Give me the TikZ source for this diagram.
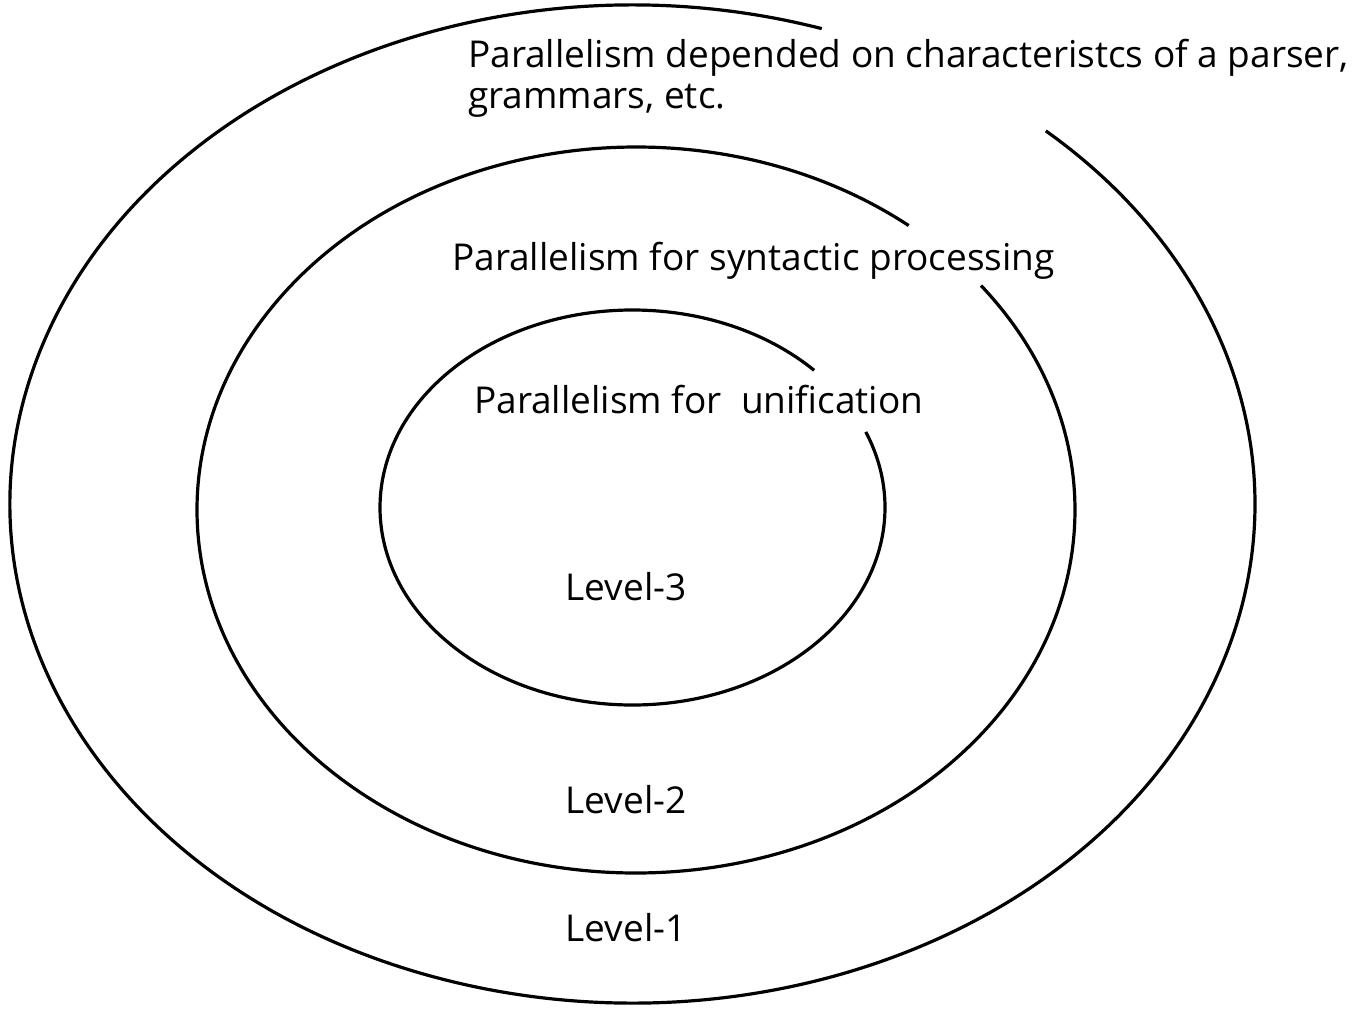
\documentclass[tikz,border=0pt]{standalone}
\usepackage{fontspec}
\setmainfont{Open Sans}
\begin{document}
\begin{tikzpicture}[x=1pt,y=-1pt,
  ring/.style={line width=3.2pt},
  lbl/.style={inner sep=0pt,font=\fontsize{37}{41}\selectfont}]
\useasboundingbox (0,0) rectangle (1354,1012);
% three nested levels, each ring broken at the upper right
\draw[ring] (632.5,504) ++(72.3:622.5 and -499) arc[start angle=72.3,end angle=408.4,x radius=622.5,y radius=-499];
\draw[ring] (636,510) ++(51.6:439 and -363) arc[start angle=51.6,end angle=398.2,x radius=439,y radius=-363];
\draw[ring] (632.5,507.5) ++(44:252.5 and -197.5) arc[start angle=44,end angle=382.5,x radius=252.5,y radius=-197.5];
% captions
\node[lbl,anchor=base west] (l1a) at (468,67) {Parallelism depended on characteristcs of a parser,};
\node[lbl,anchor=base west] (l1b) at (468,108) {grammars, etc.};
\node[lbl,anchor=base west] (l2) at (452,270) {Parallelism for syntactic processing};
\node[lbl,anchor=base west] (l3) at (474,413) {Parallelism for\ \ unification};
\node[lbl,anchor=base] (v3) at (626,600) {Level-3};
\node[lbl,anchor=base] (v2) at (626,813) {Level-2};
\node[lbl,anchor=base] (v1) at (626,941) {Level-1};
\end{tikzpicture}
\end{document}
